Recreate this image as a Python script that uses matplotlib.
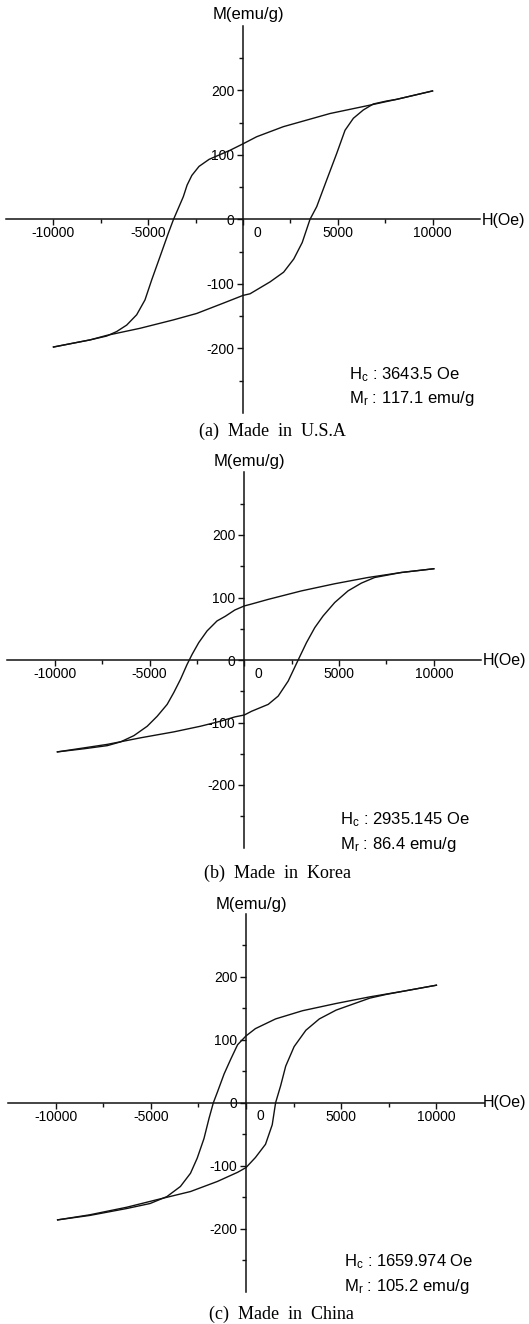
import matplotlib
matplotlib.use('Agg')
from matplotlib import pyplot as plt

plt.rcParams['font.family'] = ['Liberation Sans', 'DejaVu Sans']
plt.rcParams['mathtext.fontset'] = 'custom'
plt.rcParams['mathtext.rm'] = 'Liberation Sans'
plt.rcParams['mathtext.it'] = 'Liberation Sans:italic'

# tick values / labels (same for all three loops)
x_major = [-10000, -5000, 0, 5000, 10000]
x_labels = ['-10000', '-5000', '', '5000', '10000']
x_minor = [-7500, -2500, 2500, 7500]
y_major = [-200, -100, 0, 100, 200]
y_labels = ['-200', '-100', '0', '100', '200']
y_minor = [-250, -150, -50, 50, 150, 250]

# (a) Made in U.S.A
usa_up_h = [10000, 8110, 6702, 4591, 2128, 721, 0, -686, -1786, -2321, -2700, -2950, -3150,
            -3678, -3942, -4380, -4818, -5172, -5610, -6137, -6665, -7193, -8074, -8955, -10000]
usa_up_m = [199, 186, 177, 164, 143.6, 128, 117, 107, 93, 82, 68, 53, 35,
            -1, -21.7, -58, -94, -125, -148, -164, -174, -181, -187, -192, -198]
usa_lo_h = [-10000, -8074, -7193, -5435, -3678, -2445, -1038, 0, 370, 1429, 2143, 2679, 3125,
            3536, 3888, 4416, 4943, 5383, 5823, 6348, 6876, 7580, 8110, 10000]
usa_lo_m = [-198, -187, -180, -169, -156, -146, -130, -118, -115.5, -97, -82, -61.5, -36,
            0, 19.5, 61, 102, 138, 156.6, 169.5, 178.8, 183.4, 186, 199]

# (b) Made in Korea
kor_up_h = [10000, 8281, 6526, 4772, 3018, 1263, 316, 0, -500, -1000, -1439, -1965, -2404,
            -2754, -3018, -3368, -3719, -4070, -4596, -5123, -5825, -6526, -7228, -8456, -9860]
kor_up_m = [146, 140, 132, 122, 110.6, 97, 89, 86.5, 80, 70, 62.5, 46.5, 27.8,
            9, -7, -31, -52, -71, -90, -106, -121, -131, -137, -142, -147]
kor_lo_h = [-9860, -7228, -5474, -3719, -2316, -1263, -491, 0, 386, 1263, 1789, 2316, 2842,
            3281, 3719, 4158, 4772, 5474, 6175, 6877, 8281, 10000]
kor_lo_m = [-147, -135, -124.5, -115, -106, -98, -91, -88, -82, -71, -57.7, -33.7, 0,
            27.8, 51.8, 70.5, 92, 110.6, 123, 132, 140, 146]

# (c) Made in China
chn_up_h = [10000, 8269, 6502, 4735, 2968, 1555, 495, 0, -442, -795, -1148, -1502, -1714,
            -1943, -2208, -2562, -2915, -3445, -4152, -5035, -6272, -8216, -9894]
chn_up_m = [186.5, 177, 168, 157.5, 146, 133, 117.6, 106, 92, 69.5, 45.8, 16.8, 0,
            -25, -57, -88, -112, -133, -149, -160, -168, -179, -186]
chn_lo_h = [-9894, -8216, -6272, -4682, -2915, -1502, -442, 0, 495, 1025, 1378, 1555, 1820,
            2085, 2527, 3145, 3852, 4735, 5618, 6502, 7385, 8269, 10000]
chn_lo_m = [-186, -178, -166, -154, -141, -125, -110.5, -103, -87, -66, -35, 0, 27,
            58, 89, 115, 133, 147, 156.5, 166, 172, 177, 186.5]

hc_texts = [r'H$_{\mathrm{c}}$ : 3643.5 Oe', r'H$_{\mathrm{c}}$ : 2935.145 Oe', r'H$_{\mathrm{c}}$ : 1659.974 Oe']
mr_texts = [r'M$_{\mathrm{r}}$ : 117.1 emu/g', r'M$_{\mathrm{r}}$ : 86.4 emu/g', r'M$_{\mathrm{r}}$ : 105.2 emu/g']
captions = ['(a)  Made  in  U.S.A', '(b)  Made  in  Korea', '(c)  Made  in  China']

W, H = 529, 1324
fig = plt.figure(figsize=(W / 100, H / 100), dpi=100)


def fx(x):
    return x / W


def fy(y):
    return 1 - y / H


# axes boxes in pixels: left, top, width, height
boxes = [(6.1, 25.8, 473.8, 387), (7.4, 472.5, 473.8, 375), (8, 913.7, 476, 378)]
# text anchors in pixels
m_label_pos = [(248, 15), (249.6, 462), (251, 905)]
h_label_pos = [(482, 220), (483, 660), (483, 1103)]
note_pos = [(348.6, 379, 403), (340, 824, 849), (343.5, 1266, 1291)]
caption_pos = [(272, 436), (278, 878), (281, 1319)]

loops = [(usa_up_h, usa_up_m, usa_lo_h, usa_lo_m),
         (kor_up_h, kor_up_m, kor_lo_h, kor_lo_m),
         (chn_up_h, chn_up_m, chn_lo_h, chn_lo_m)]

for i in range(3):
    left, top, width, height = boxes[i]
    ax = fig.add_axes([fx(left), fy(top + height), width / W, height / H])
    ax.patch.set_alpha(0)
    ax.set_xlim(-12500, 12500)
    ax.set_ylim(-300, 300)
    ax.spines['left'].set_position(('data', 0))
    ax.spines['bottom'].set_position(('data', 0))
    ax.spines['top'].set_visible(False)
    ax.spines['right'].set_visible(False)
    for s in ['left', 'bottom']:
        ax.spines[s].set_linewidth(1.1)
        ax.spines[s].set_color('#111111')

    ax.set_xticks(x_major)
    ax.set_xticklabels(x_labels)
    ax.set_xticks(x_minor, minor=True)
    ax.set_yticks(y_major)
    ax.set_yticklabels(y_labels)
    ax.set_yticks(y_minor, minor=True)
    ax.tick_params(which='major', direction='out', length=4.3, width=1, labelsize=10, color='#111111')
    ax.tick_params(which='minor', direction='out', length=2.8, width=1, color='#111111')
    ax.tick_params(axis='x', which='major', pad=0.8)
    ax.tick_params(axis='y', which='major', pad=2)

    # the x "0" sits to the right of the vertical axis
    ax.annotate('0', xy=(0, 0), xytext=(14, -6.5), textcoords='offset pixels',
                ha='center', va='top', fontsize=10)

    up_h, up_m, lo_h, lo_m = loops[i]
    ax.plot(up_h, up_m, color='#111111', lw=1.0)
    ax.plot(lo_h, lo_m, color='#111111', lw=1.0)

    mx, my = m_label_pos[i]
    fig.text(fx(mx), fy(my), 'M(emu/g)', ha='center', va='center', fontsize=12)
    hx, hy = h_label_pos[i]
    fig.text(fx(hx), fy(hy), 'H(Oe)', ha='left', va='center', fontsize=11.5)
    nx, ny1, ny2 = note_pos[i]
    fig.text(fx(nx), fy(ny1), hc_texts[i], ha='left', va='baseline', fontsize=12)
    fig.text(fx(nx), fy(ny2), mr_texts[i], ha='left', va='baseline', fontsize=12)
    cx, cy = caption_pos[i]
    fig.text(fx(cx), fy(cy), captions[i], ha='center', va='baseline', fontsize=13,
             family=['Liberation Serif', 'DejaVu Serif'])

fig.savefig('out.png', dpi=100)
